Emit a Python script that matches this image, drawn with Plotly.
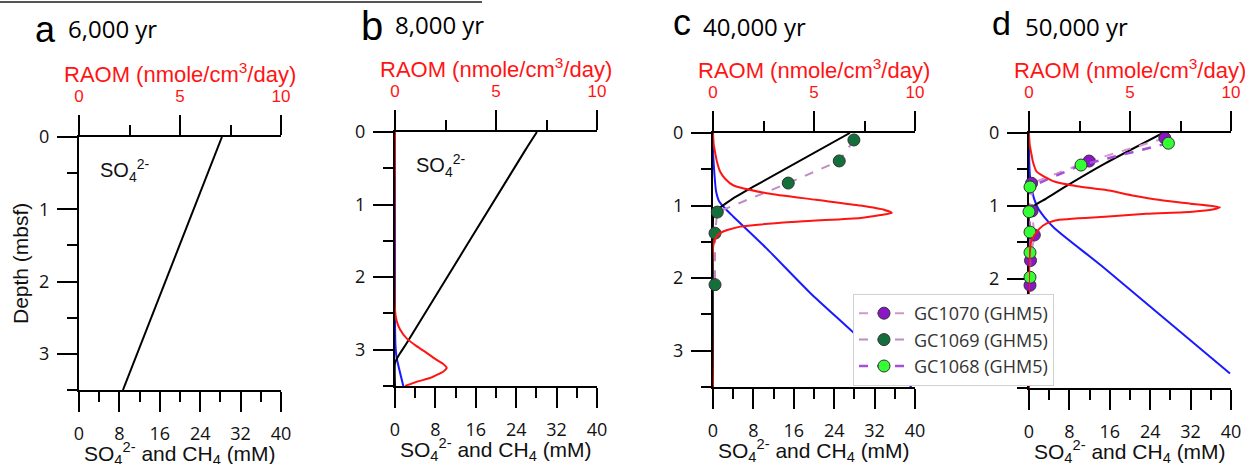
import plotly.graph_objects as go

W, H = 1245, 464

# ---------------- data ----------------
# Panel a : 6,000 yr
a_so4_depth = [0.0, 3.5]
a_so4 = [28.3, 8.7]

# Panel b : 8,000 yr
b_so4_depth = [0.0, 0.25, 2.91, 3.05, 3.12, 3.18, 3.5]
b_so4 = [28.1, 25.8, 2.3, 1.0, 0.4, 0.0, 0.0]
b_ch4_depth = [0.0, 2.6, 2.95, 3.1, 3.5]
b_ch4 = [0.0, 0.0, 0.1, 0.3, 1.65]
b_raom_depth = [0.0, 2.45, 2.6, 2.72, 2.85, 2.95, 3.05, 3.14, 3.2, 3.25, 3.3, 3.35, 3.39, 3.44, 3.5]
b_raom = [0.0, 0.0, 0.08, 0.25, 0.6, 1.07, 1.6, 2.06, 2.4, 2.56, 2.4, 2.05, 1.73, 1.1, 0.5]

# Panel c : 40,000 yr
c_so4_depth = [0.0, 0.74, 0.9, 1.01, 1.06, 1.12, 1.2, 3.5]
c_so4 = [27.1, 8.0, 4.0, 1.7, 0.6, 0.1, 0.0, 0.0]
c_ch4_depth = [0.0, 0.3, 0.58, 0.8, 0.94, 1.04, 1.15, 1.59, 2.2, 2.73, 3.5]
c_ch4 = [0.0, 0.05, 0.3, 0.6, 1.2, 2.4, 4.0, 10.6, 19.2, 27.5, 39.3]
c_raom_depth = [0.0, 0.15, 0.26, 0.4, 0.53, 0.63, 0.72, 0.83, 0.92, 1.0, 1.06, 1.1,
                1.13, 1.17, 1.22, 1.29, 1.38, 1.5, 3.5]
c_raom = [0.0, 0.03, 0.1, 0.2, 0.35, 0.6, 1.0, 2.66, 5.1, 7.3, 8.5, 8.85,
          8.3, 7.3, 4.3, 1.34, 0.35, 0.05, 0.0]
gc1069_depth = [0.096, 0.385, 0.69, 1.09, 1.38, 2.09]
gc1069_so4 = [27.9, 25.0, 14.9, 0.85, 0.4, 0.4]

# Panel d : 50,000 yr
d_so4_depth = [0.0, 0.42, 0.74, 0.9, 0.99, 1.05, 1.1, 3.5]
d_so4 = [26.5, 15.0, 7.1, 3.4, 1.2, 0.2, 0.0, 0.0]
d_ch4_depth = [0.0, 0.4, 0.6, 0.75, 0.9, 1.04, 1.15, 1.31, 1.82, 3.3]
d_ch4 = [0.0, 0.05, 0.2, 0.5, 1.0, 1.85, 3.0, 5.1, 14.3, 39.8]
d_raom_depth = [0.0, 0.15, 0.26, 0.4, 0.53, 0.67, 0.73, 0.78, 0.86, 0.92, 0.97, 1.02,
                1.05, 1.08, 1.11, 1.15, 1.2, 1.27, 1.36, 1.5, 3.5]
d_raom = [0.0, 0.03, 0.1, 0.2, 0.38, 1.29, 2.4, 3.76, 5.2, 6.5, 8.0, 9.45,
          9.1, 8.1, 5.8, 3.76, 1.29, 0.7, 0.38, 0.1, 0.0]
gc1070_depth = [0.07, 0.385, 0.69, 1.07, 1.40, 1.75, 2.09]
gc1070_so4 = [26.9, 11.9, 0.5, 0.6, 1.05, 0.3, 0.2]
gc1068_depth = [0.14, 0.44, 0.74, 1.08, 1.36, 1.64, 1.98]
gc1068_so4 = [27.6, 10.3, 0.2, 0.0, 0.2, 0.2, 0.2]

panel_letters = ["a", "b", "c", "d"]
panel_ages = ["6,000 yr", "8,000 yr", "40,000 yr", "50,000 yr"]
mm_ticks = [0, 8, 16, 24, 32, 40]
raom_ticks = [0, 5, 10]
depth_ticks = [0, 1, 2, 3]

# ---------------- styling / layout ----------------
RED = "#ff1414"
BLUE = "#1a1aff"
BLACK = "#000000"
AX_FONT = "Liberation Sans, Arial, sans-serif"
TICK_FONT = "Open Sans, sans-serif"

# plot boxes in pixels: (left, right, top, bottom)
boxes = [(79, 281, 137, 390), (395, 597, 132, 386), (713, 915, 133, 387), (1029, 1231, 133, 388)]


def fx(p):
    return p / W


def fy(p):
    return 1 - p / H


fig = go.Figure()
layout = dict(
    width=W, height=H, margin=dict(l=0, r=0, t=0, b=0, pad=0, autoexpand=False),
    paper_bgcolor="white", plot_bgcolor="rgba(0,0,0,0)",
    showlegend=True,
    legend=dict(
        x=fx(853), y=fy(294), xanchor="left", yanchor="top",
        bgcolor="white", bordercolor="#d0d0d0", borderwidth=1,
        font=dict(family=TICK_FONT, size=18, color="#333333"),
        itemwidth=50, tracegroupgap=0,
    ),
)

axis_common = dict(showgrid=False, zeroline=False, showline=True, linecolor=BLACK, linewidth=2,
                   ticks="outside", ticklen=20, tickwidth=2, tickcolor=BLACK, automargin=False)

refs = []
for i, (x0, x1, y0, y1) in enumerate(boxes):
    xb_key = "xaxis" if i == 0 else f"xaxis{2 * i + 1}"
    xt_key = f"xaxis{2 * i + 2}"
    y_key = "yaxis" if i == 0 else f"yaxis{i + 1}"
    xb_ref = "x" if i == 0 else f"x{2 * i + 1}"
    xt_ref = f"x{2 * i + 2}"
    y_ref = "y" if i == 0 else f"y{i + 1}"
    refs.append((xb_ref, xt_ref, y_ref))
    dom_x = [fx(x0), fx(x1)]
    dom_y = [fy(y1), fy(y0)]
    layout[xb_key] = dict(axis_common, domain=dom_x, range=[0, 40], anchor=y_ref, side="bottom",
                          tickvals=mm_ticks, ticklabelstandoff=6,
                          tickfont=dict(family=TICK_FONT, size=18, color="#111"),
                          minor=dict(dtick=4, tick0=0, ticks="outside", ticklen=10, tickwidth=2,
                                     tickcolor=BLACK, showgrid=False))
    layout[xt_key] = dict(axis_common, domain=dom_x, range=[0, 10], anchor=y_ref, side="top",
                          overlaying=xb_ref, tickvals=raom_ticks, ticklabelstandoff=6,
                          tickfont=dict(family=AX_FONT, size=17, color=RED),
                          minor=dict(dtick=2.5, tick0=0, ticks="outside", ticklen=10, tickwidth=2,
                                     tickcolor=BLACK, showgrid=False))
    layout[y_key] = dict(axis_common, domain=dom_y, range=[3.5, 0], anchor=xb_ref,
                         tickvals=depth_ticks, ticklabelstandoff=4, layer="below traces",
                         tickfont=dict(family=TICK_FONT, size=18, color="#111"),
                         minor=dict(dtick=0.5, tick0=0, ticks="outside", ticklen=10, tickwidth=2,
                                    tickcolor=BLACK, showgrid=False))

fig.update_layout(**layout)


def line(x, y, color, ref_x, ref_y, shape="linear"):
    fig.add_trace(go.Scatter(x=x, y=y, mode="lines", xaxis=ref_x, yaxis=ref_y,
                             line=dict(color=color, width=2, shape=shape, smoothing=0.6),
                             showlegend=False, hoverinfo="skip"))


# panel a (the RAOM axis is present but carries no curve)
line(a_so4, a_so4_depth, BLACK, refs[0][0], refs[0][2])
fig.add_trace(go.Scatter(x=[None], y=[None], mode="lines", xaxis=refs[0][1], yaxis=refs[0][2],
                         showlegend=False, hoverinfo="skip"))
# panel b
line(b_raom, b_raom_depth, RED, refs[1][1], refs[1][2], "spline")
line(b_ch4, b_ch4_depth, BLUE, refs[1][0], refs[1][2], "spline")
line(b_so4, b_so4_depth, BLACK, refs[1][0], refs[1][2], "spline")
# panel c
line(c_raom, c_raom_depth, RED, refs[2][1], refs[2][2], "spline")
line(c_ch4, c_ch4_depth, BLUE, refs[2][0], refs[2][2], "spline")
line(c_so4, c_so4_depth, BLACK, refs[2][0], refs[2][2], "spline")
# panel d
line(d_raom, d_raom_depth, RED, refs[3][1], refs[3][2], "spline")
line(d_ch4, d_ch4_depth, BLUE, refs[3][0], refs[3][2], "spline")
line(d_so4, d_so4_depth, BLACK, refs[3][0], refs[3][2], "spline")

# measured pore-water data (legend order: 1070, 1069, 1068)
fig.add_trace(go.Scatter(x=gc1070_so4, y=gc1070_depth, xaxis=refs[3][0], yaxis=refs[3][2],
                         mode="lines+markers", name="GC1070 (GHM5)", cliponaxis=False,
                         line=dict(color="#d396cc", width=2, dash="dash"),
                         marker=dict(size=12, color="#8a16c8", line=dict(color="#333", width=1))))
fig.add_trace(go.Scatter(x=gc1069_so4, y=gc1069_depth, xaxis=refs[2][0], yaxis=refs[2][2],
                         mode="lines+markers", name="GC1069 (GHM5)", cliponaxis=False,
                         line=dict(color="#c08cc6", width=2, dash="dash"),
                         marker=dict(size=12, color="#14703a", line=dict(color="#333", width=1))))
fig.add_trace(go.Scatter(x=gc1068_so4, y=gc1068_depth, xaxis=refs[3][0], yaxis=refs[3][2],
                         mode="lines+markers", name="GC1068 (GHM5)", cliponaxis=False,
                         line=dict(color="#a64fd8", width=2.5, dash="dash"),
                         marker=dict(size=12, color="#33ff33", line=dict(color="#333", width=1))))

# ---------------- text ----------------
ann = []
letter_pos = [(33, 29, 36), (359, 26, 40), (671, 22, 36), (990, 23, 34)]
age_pos = [(66, 28.6), (393, 24.6), (701, 26.6), (1023, 26.6)]
for i, (x0, x1, y0, y1) in enumerate(boxes):
    cx = (x0 + x1) / 2
    lx, ly, ls = letter_pos[i]
    ann.append(dict(x=fx(lx), y=fy(ly), xref="paper", yref="paper", xanchor="left", yanchor="middle",
                    text=panel_letters[i], showarrow=False,
                    font=dict(family=AX_FONT, size=ls, color=BLACK)))
    axp, ayp = age_pos[i]
    ann.append(dict(x=fx(axp), y=fy(ayp), xref="paper", yref="paper", xanchor="left", yanchor="middle",
                    text=panel_ages[i], showarrow=False,
                    font=dict(family=TICK_FONT, size=24, color=BLACK)))
    ann.append(dict(x=fx(cx), y=fy(y0 - 64), xref="paper", yref="paper", xanchor="center", yanchor="middle",
                    text="RAOM (nmole/cm<sup>3</sup>/day)", showarrow=False,
                    font=dict(family=AX_FONT, size=22, color=RED)))
    ann.append(dict(x=fx(cx), y=fy(y1 + 63), xref="paper", yref="paper", xanchor="center", yanchor="middle",
                    text="SO<sub>4</sub><sup>2-</sup> and CH<sub>4</sub> (mM)", showarrow=False,
                    font=dict(family=AX_FONT, size=21, color="#111")))

ann.append(dict(x=fx(20), y=fy(264), xref="paper", yref="paper", xanchor="center", yanchor="middle",
                text="Depth (mbsf)", textangle=-90, showarrow=False,
                font=dict(family=AX_FONT, size=21, color="#111")))
ann.append(dict(x=fx(98), y=fy(170), xref="paper", yref="paper", xanchor="left", yanchor="middle",
                text="SO<sub>4</sub><sup>2-</sup>", showarrow=False,
                font=dict(family=AX_FONT, size=20, color="#111")))
ann.append(dict(x=fx(414), y=fy(165), xref="paper", yref="paper", xanchor="left", yanchor="middle",
                text="SO<sub>4</sub><sup>2-</sup>", showarrow=False,
                font=dict(family=AX_FONT, size=20, color="#111")))
fig.update_layout(annotations=ann)

# cropped rule from the page above the figure
fig.add_shape(type="line", xref="paper", yref="paper", x0=0, x1=fx(482), y0=fy(2), y1=fy(2),
              line=dict(color="#555", width=2))

fig.write_html("out.html")
